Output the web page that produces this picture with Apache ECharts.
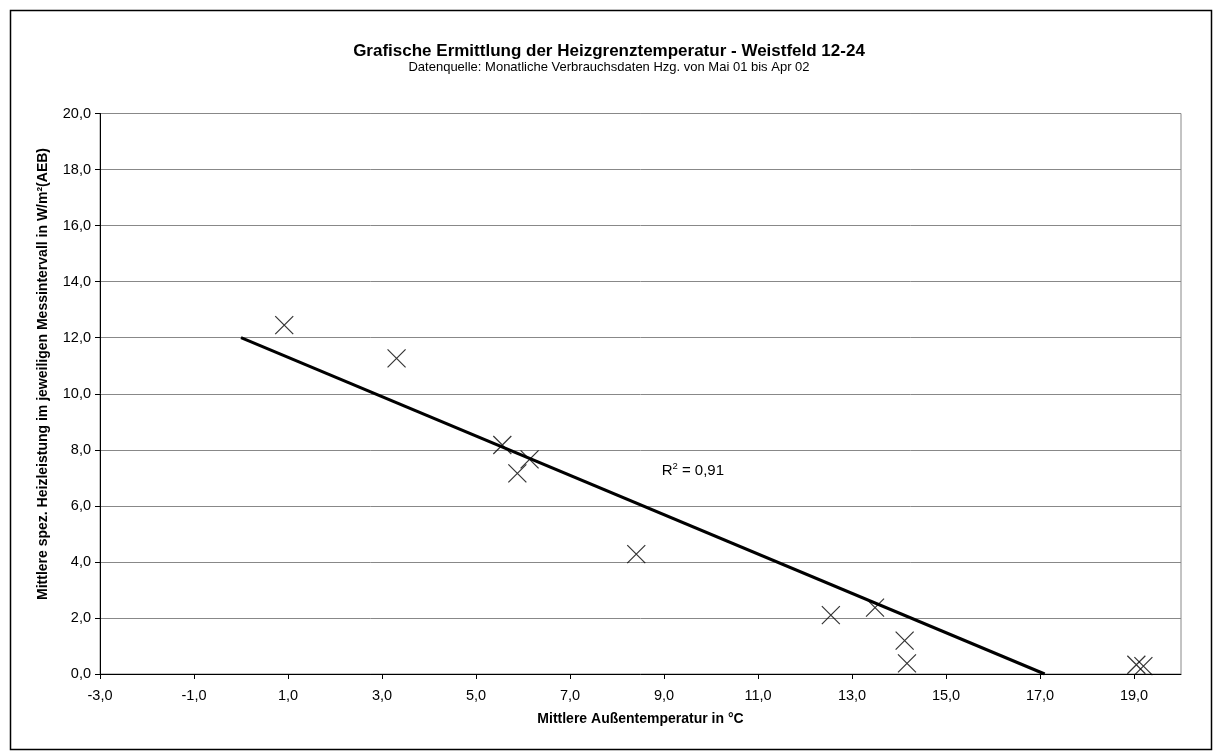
<!DOCTYPE html>
<html><head><meta charset="utf-8">
<script src="https://cdn.jsdelivr.net/npm/echarts@6/dist/echarts.min.js"></script>
<style>html,body{margin:0;padding:0;background:#fff}#c{width:1218px;height:756px}</style>
</head><body><div id="c"></div>
<script>
// ---- data ----
const chartTitle = 'Grafische Ermittlung der Heizgrenztemperatur - Weistfeld 12-24';
const chartSubtitle = 'Datenquelle: Monatliche Verbrauchsdaten Hzg. von Mai 01 bis Apr 02';
const xAxisName = 'Mittlere Außentemperatur in °C';
const yAxisName = 'Mittlere spez. Heizleistung im jeweiligen Messintervall in W/m²(AEB)';
const tempX  = [0.92, 3.31, 5.56, 6.14, 5.88, 8.41, 12.55, 13.49, 14.12, 14.17, 19.05, 19.20];
const powerY = [12.45, 11.26, 8.17, 7.66, 7.16, 4.28, 2.10, 2.37, 1.19, 0.38, 0.33, 0.28];
const trendX = [0.0, 17.1];
const trendY = [12.0, 0.0];
const r2Label = ['R', '2', ' = 0,91'];
const r2At = [8.95, 7.24];
const xMin = -3, xMax = 20, xStep = 2;
const yMin = 0, yMax = 20, yStep = 2;

const FONT = '"Liberation Sans", Arial, sans-serif';
const fmt = v => v.toFixed(1).replace('.', ',');

const chart = echarts.init(document.getElementById('c'), null, {renderer: 'canvas'});
const points = tempX.map((x, i) => [x, powerY[i]]);
const trend = trendX.map((x, i) => [x, trendY[i]]);

const border = {
  type: 'rect', left: 8, top: 8, shape: {width: 1201, height: 739},
  style: {fill: 'none', stroke: '#000', lineWidth: 1.5}, silent: true
};
const yTitle = {
  type: 'text', x: 43, y: 374, rotation: Math.PI / 2,
  style: {
    text: yAxisName, fontFamily: FONT, fontSize: 14, fontWeight: 'bold', fill: '#000',
    align: 'center', verticalAlign: 'middle'
  }, silent: true
};

chart.setOption({
  animation: false,
  backgroundColor: '#fff',
  textStyle: {fontFamily: FONT},
  title: {
    text: chartTitle, subtext: chartSubtitle, left: 'center', top: 38, itemGap: 1,
    textStyle: {fontFamily: FONT, fontSize: 17, fontWeight: 'bold', color: '#000'},
    subtextStyle: {fontFamily: FONT, fontSize: 13, color: '#000'}
  },
  grid: {left: 100, right: 37, top: 113.5, bottom: 82, show: true, borderColor: '#888', borderWidth: 1},
  xAxis: {
    type: 'value', min: xMin, max: xMax, interval: xStep,
    name: xAxisName, nameLocation: 'middle', nameGap: 38,
    nameTextStyle: {fontFamily: FONT, fontSize: 14, fontWeight: 'bold', color: '#000'},
    axisLine: {show: true, onZero: false, lineStyle: {color: '#000', width: 1}},
    axisTick: {show: true, length: 5, lineStyle: {color: '#000'}},
    axisLabel: {formatter: fmt, fontFamily: FONT, fontSize: 14.5, color: '#000', margin: 14, showMaxLabel: false},
    splitLine: {show: false}
  },
  yAxis: {
    type: 'value', min: yMin, max: yMax, interval: yStep,
    axisLine: {show: true, onZero: false, lineStyle: {color: '#000', width: 1}},
    axisTick: {show: true, length: 5, lineStyle: {color: '#000'}},
    axisLabel: {formatter: fmt, fontFamily: FONT, fontSize: 14.5, color: '#000', margin: 9},
    splitLine: {show: true, lineStyle: {color: '#888', width: 1}}
  },
  series: [
    {
      type: 'line', data: trend, symbol: 'none', z: 3,
      lineStyle: {color: '#000', width: 3}
    },
    {
      type: 'scatter', data: points, z: 4,
      symbol: 'path://M0,0L10,10M10,0L0,10', symbolSize: 18,
      itemStyle: {color: 'rgba(0,0,0,0)', borderColor: '#000', borderWidth: 1.2}
    }
  ],
  graphic: [border, yTitle]
});

const p = chart.convertToPixel({gridIndex: 0}, r2At);
chart.setOption({
  graphic: [border, yTitle, {
    type: 'text', x: p[0], y: p[1],
    style: {
      text: '{a|' + r2Label[0] + '}{s|' + r2Label[1] + '}{a|' + r2Label[2] + '}',
      verticalAlign: 'middle', align: 'left',
      rich: {
        a: {fontFamily: FONT, fontSize: 15, fill: '#000', color: '#000'},
        s: {fontFamily: FONT, fontSize: 9.5, fill: '#000', color: '#000', padding: [0, 0, 9, 0]}
      }
    }
  }]
});
</script>
</body></html>
